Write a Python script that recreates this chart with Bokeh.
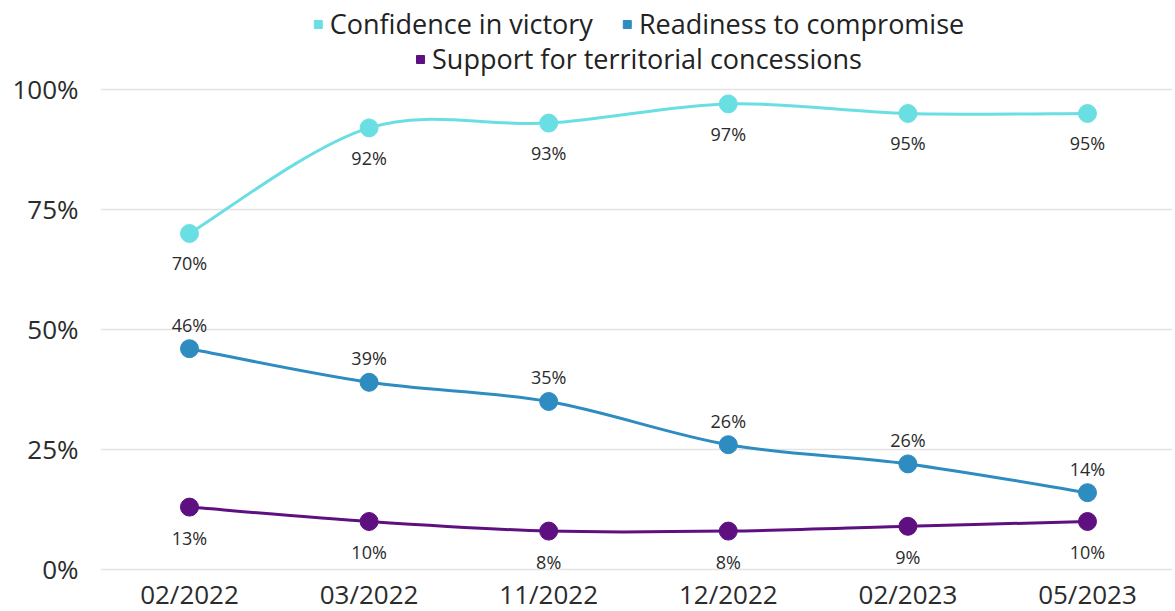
from bokeh.plotting import figure
from bokeh.models import Range1d, FixedTicker, PrintfTickFormatter, Legend, LegendItem
from bokeh.core.properties import value
from bokeh.embed import file_html
from bokeh.resources import INLINE

categories = ["02/2022", "03/2022", "11/2022", "12/2022", "02/2023", "05/2023"]
confidence = [70, 92, 93, 97, 95, 95]
confidence_labels = ["70%", "92%", "93%", "97%", "95%", "95%"]
readiness = [46, 39, 35, 26, 22, 16]
readiness_labels = ["46%", "39%", "35%", "26%", "26%", "14%"]
support = [13, 10, 8, 8, 9, 10]
support_labels = ["13%", "10%", "8%", "8%", "9%", "10%"]
y_ticks = [0, 25, 50, 75, 100]

FONT = "Open Sans"
C_CONF = "#6ADFE3"
C_READ = "#2E8CC0"
C_SUPP = "#5E1080"

xs = list(range(len(categories)))

p = figure(frame_width=1072, frame_height=575, output_backend="svg", toolbar_location=None,
           x_range=Range1d(-0.4955, 5.4733), y_range=Range1d(-1.25, 118.54),
           min_border_left=100, min_border_right=0, min_border_top=0, min_border_bottom=0)
p.outline_line_color = None
p.background_fill_color = "white"
p.border_fill_color = "white"
p.xgrid.grid_line_color = None
p.ygrid.grid_line_color = "#E3E3E3"
p.ygrid.grid_line_width = 1.5

p.yaxis.ticker = FixedTicker(ticks=y_ticks)
p.yaxis.formatter = PrintfTickFormatter(format="%d%%")
p.xaxis.ticker = FixedTicker(ticks=xs)
p.xaxis.major_label_overrides = {i: c for i, c in enumerate(categories)}
for ax in (p.xaxis, p.yaxis):
    ax.axis_line_color = None
    ax.major_tick_line_color = None
    ax.minor_tick_line_color = None
    ax.major_tick_out = 0
    ax.major_tick_in = 0
    ax.minor_tick_out = 0
    ax.minor_tick_in = 0
    ax.major_label_text_font = FONT
    ax.major_label_text_color = "#2b2b2b"
p.yaxis.major_label_text_font_size = "26px"
p.xaxis.major_label_text_font_size = "26px"
p.yaxis.major_label_standoff = 22
p.xaxis.major_label_standoff = 0


def smooth(x, y):
    n = len(x)
    x0, y0, x1, y1, cx0, cy0, cx1, cy1 = [], [], [], [], [], [], [], []
    for i in range(n - 1):
        xp, yp = (x[i - 1], y[i - 1]) if i > 0 else (x[i], y[i])
        xn, yn = (x[i + 2], y[i + 2]) if i + 2 < n else (x[i + 1], y[i + 1])
        x0.append(x[i]); y0.append(y[i]); x1.append(x[i + 1]); y1.append(y[i + 1])
        cx0.append(x[i] + (x[i + 1] - xp) / 6); cy0.append(y[i] + (y[i + 1] - yp) / 6)
        cx1.append(x[i + 1] - (xn - x[i]) / 6); cy1.append(y[i + 1] - (yn - y[i]) / 6)
    return dict(x0=x0, y0=y0, x1=x1, y1=y1, cx0=cx0, cy0=cy0, cx1=cx1, cy1=cy1)


series = [
    ("conf", confidence, confidence_labels, C_CONF, 30),
    ("read", readiness, readiness_labels, C_READ, -24),
    ("supp", support, support_labels, C_SUPP, 31),
]
sw = {}
for name, vals, labs, col, off in series:
    p.bezier(line_color=col, line_width=3, **smooth(xs, vals))
    p.scatter(xs, vals, size=18, marker="circle", fill_color=col, line_color=col)
    p.text(xs, vals, text=labs, y_offset=off, text_align="center", text_baseline="middle",
           text_font=value(FONT), text_font_size="18px", text_color="#2b2b2b")
    # hidden square renderer used only as the legend swatch
    sw[name] = p.scatter(xs, vals, marker="square", size=8, fill_color=col,
                         line_color=col, visible=False)


def make_legend(items, margin):
    return Legend(items=items, orientation="horizontal", location="top_center",
                  margin=margin, padding=0, spacing=24, label_standoff=2,
                  glyph_width=20, glyph_height=20, border_line_color=None,
                  background_fill_alpha=0, inactive_fill_alpha=0,
                  label_text_font=FONT, label_text_font_size="27px",
                  label_text_color="#222222", click_policy="none")


lg1 = make_legend([LegendItem(label="Confidence in victory", renderers=[sw["conf"]]),
                   LegendItem(label="Readiness to compromise", renderers=[sw["read"]])], 5)
lg2 = make_legend([LegendItem(label="Support for territorial concessions", renderers=[sw["supp"]])], 40)
p.add_layout(lg1, "center")
p.add_layout(lg2, "center")

open("out.html", "w").write(file_html(p, INLINE))
